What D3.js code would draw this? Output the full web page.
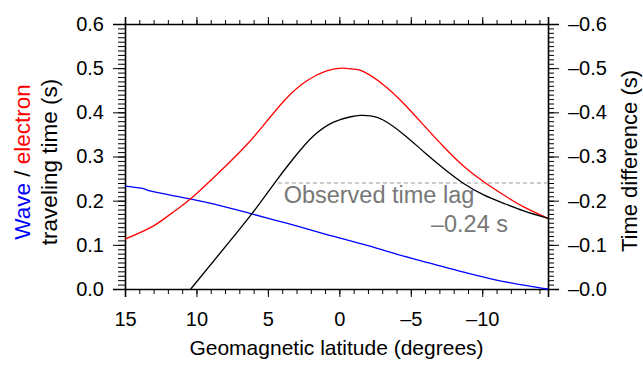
<!DOCTYPE html>
<html>
<head>
<meta charset="utf-8">
<script src="https://cdn.jsdelivr.net/npm/d3@7"></script>
<style>
  body { margin: 0; background: #fff; }
  svg { display: block; font-family: "Liberation Sans", Arial, Helvetica, sans-serif; }
</style>
</head>
<body>
<svg id="chart" width="643" height="365"></svg>
<script>
// electron (red) travel time, left axis
const latElectron = [15, 13.0, 11.6, 10.45, 8.35, 6.5, 5.1, 3.7, 2.3, 0.9, -0.2, -1.0, -1.7, -3.1, -4.5, -5.9, -7.3, -8.7, -10.1, -11.5, -12.9, -14.6];
const electronTime = [0.113, 0.143, 0.175, 0.203, 0.266, 0.326, 0.379, 0.432, 0.471, 0.494, 0.500, 0.498, 0.492, 0.462, 0.420, 0.371, 0.322, 0.278, 0.243, 0.213, 0.186, 0.160];

// wave (blue) travel time, left axis
const latWave = [15, 13.7, 13.25, 10.45, 8.35, 6.13, 3.7, 1.3, -1.7, -4.0, -6.4, -8.7, -11.0, -13.4, -14.6];
const waveTime = [0.233, 0.227, 0.222, 0.204, 0.189, 0.170, 0.149, 0.127, 0.101, 0.079, 0.058, 0.038, 0.020, 0.006, 0.0];

// time difference (black), right axis
const latDiff = [10.4, 8.35, 6.13, 4.6, 3.2, 1.8, 0.4, -0.8, -1.45, -2.2, -3.1, -4.5, -5.9, -7.3, -8.7, -10.1, -11.5, -12.9, -14.6];
const timeDiff = [0, -0.081, -0.170, -0.237, -0.296, -0.347, -0.378, -0.390, -0.393, -0.392, -0.382, -0.350, -0.311, -0.273, -0.239, -0.213, -0.194, -0.177, -0.160];

const xTicks = [15, 10, 5, 0, -5, -10];
const leftTicks = [0, 0.1, 0.2, 0.3, 0.4, 0.5, 0.6];
const rightTicks = [0, -0.1, -0.2, -0.3, -0.4, -0.5, -0.6];
const observedLag = -0.24;

const margin = { top: 24, right: 95, bottom: 76, left: 125 };
const width = 643 - margin.left - margin.right;
const height = 365 - margin.top - margin.bottom;

const svg = d3.select('#chart');
const g = svg.append('g').attr('transform', `translate(${margin.left},${margin.top})`);

const x = d3.scaleLinear().domain([15, -14.6]).range([0, width]);
const yLeft = d3.scaleLinear().domain([0, 0.6]).range([height, 0]);
const yRight = d3.scaleLinear().domain([0, -0.6]).range([height, 0]);

const minorX = d3.range(15, -14.6, -1);
const minorY = d3.range(0, 61).map(d => d / 100);
const minorYR = minorY.map(d => -d);

const dash = d => (d < 0 ? '\u2013' : '') + Math.abs(d);
const fmtR = d => '\u2013' + d3.format('.1f')(Math.abs(d));

// minor ticks first
g.append('g').attr('class', 'minor').attr('transform', `translate(0,${height})`)
  .call(d3.axisBottom(x).tickValues(minorX).tickSize(5).tickFormat(''));
g.append('g').attr('class', 'minor')
  .call(d3.axisTop(x).tickValues(minorX).tickSize(4).tickFormat(''));
g.append('g').attr('class', 'minor')
  .call(d3.axisLeft(yLeft).tickValues(minorY).tickSize(7).tickFormat(''));
g.append('g').attr('class', 'minor').attr('transform', `translate(${width},0)`)
  .call(d3.axisRight(yRight).tickValues(minorYR).tickSize(6).tickFormat(''));

// major axes
g.append('g').attr('class', 'axis').attr('transform', `translate(0,${height})`)
  .call(d3.axisBottom(x).tickValues(xTicks).tickSize(8).tickPadding(15).tickFormat(dash));
g.append('g').attr('class', 'axis')
  .call(d3.axisTop(x).tickValues(xTicks).tickSize(7).tickFormat(''));
g.append('g').attr('class', 'axis')
  .call(d3.axisLeft(yLeft).tickValues(leftTicks).tickSize(12).tickPadding(9).tickFormat(d3.format('.1f')));
g.append('g').attr('class', 'axis').attr('transform', `translate(${width},0)`)
  .call(d3.axisRight(yRight).tickValues(rightTicks).tickSize(11).tickPadding(9).tickFormat(fmtR));

svg.selectAll('.minor path').remove();
svg.selectAll('.axis path').attr('stroke-width', 1.6).attr('stroke', '#000');
svg.selectAll('.axis .tick line, .minor .tick line').attr('stroke', '#000').attr('stroke-width', 1);
svg.selectAll('.axis text').attr('font-size', 20).attr('fill', '#000')
  .style('font-family', '"Liberation Sans", Arial, sans-serif');

// observed time lag
g.append('line')
  .attr('x1', x(4.3)).attr('x2', width)
  .attr('y1', yRight(observedLag)).attr('y2', yRight(observedLag))
  .attr('stroke', '#999').attr('stroke-width', 1.2).attr('stroke-dasharray', '4,3');

g.append('text').attr('x', x(3.9)).attr('y', 203 - margin.top)
  .attr('font-size', 23.5).attr('fill', '#777').text('Observed time lag');
g.append('text').attr('x', x(-11.8)).attr('y', 232 - margin.top)
  .attr('text-anchor', 'end').attr('font-size', 23.5).attr('fill', '#777')
  .text('\u20130.24 s');

// curves
const lineL = d3.line().x(d => x(d[0])).y(d => yLeft(d[1]));
const lineR = d3.line().x(d => x(d[0])).y(d => yRight(d[1])).curve(d3.curveNatural);

g.append('path').datum(d3.zip(latWave, waveTime))
  .attr('d', lineL.curve(d3.curveCatmullRom.alpha(0.5))).attr('fill', 'none')
  .attr('stroke', '#0000ff').attr('stroke-width', 1.3);
g.append('path').datum(d3.zip(latElectron, electronTime))
  .attr('d', lineL.curve(d3.curveNatural)).attr('fill', 'none')
  .attr('stroke', '#ff0000').attr('stroke-width', 1.3);
g.append('path').datum(d3.zip(latDiff, timeDiff))
  .attr('d', lineR).attr('fill', 'none').attr('stroke', '#000').attr('stroke-width', 1.3);

// axis titles
svg.append('text')
  .attr('x', margin.left + width / 2).attr('y', 355)
  .attr('text-anchor', 'middle').attr('font-size', 21)
  .text('Geomagnetic latitude (degrees)');

const leftTitle = svg.append('text')
  .attr('transform', 'translate(30,162) rotate(-90)')
  .attr('text-anchor', 'middle').attr('font-size', 22.5);
leftTitle.append('tspan').attr('fill', '#0000ff').text('Wave');
leftTitle.append('tspan').attr('fill', '#000').text(' / ');
leftTitle.append('tspan').attr('fill', '#ff0000').text('electron');

svg.append('text')
  .attr('transform', 'translate(57,162) rotate(-90)')
  .attr('text-anchor', 'middle').attr('font-size', 22.5)
  .text('traveling time (s)');

svg.append('text')
  .attr('transform', 'translate(637,161) rotate(-90)')
  .attr('text-anchor', 'middle').attr('font-size', 22)
  .text('Time difference (s)');
</script>
</body>
</html>
